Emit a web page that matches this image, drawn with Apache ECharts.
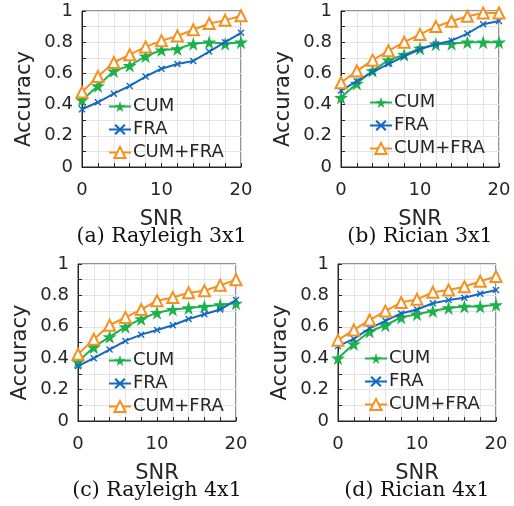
<!DOCTYPE html>
<html><head><meta charset="utf-8">
<script src="https://cdn.jsdelivr.net/npm/echarts@6/dist/echarts.min.js"></script>
<style>html,body{margin:0;padding:0;background:#fff}#c{width:514px;height:506px}</style>
</head><body><div id="c"></div>
<script>
const snr = [0,2,4,6,8,10,12,14,16,18,20];
const seriesNames = ['CUM','FRA','CUM+FRA'];
const captions = ['(a) Rayleigh 3x1','(b) Rician 3x1','(c) Rayleigh 4x1','(d) Rician 4x1'];
const xTickLabels = [0,10,20];
const yTickLabels = ['0','0.2','0.4','0.6','0.8','1'];

const a_CUM = [0.43,0.52,0.615,0.65,0.71,0.75,0.757,0.79,0.80,0.79,0.80];
const a_FRA = [0.37,0.415,0.47,0.52,0.58,0.63,0.66,0.68,0.74,0.80,0.86];
const a_CF  = [0.48,0.58,0.67,0.72,0.77,0.81,0.84,0.88,0.92,0.94,0.97];

const b_CUM = [0.445,0.536,0.617,0.685,0.72,0.76,0.787,0.79,0.80,0.80,0.80];
const b_FRA = [0.49,0.55,0.61,0.66,0.71,0.755,0.787,0.81,0.855,0.915,0.936];
const b_CF  = [0.54,0.615,0.685,0.745,0.80,0.85,0.90,0.934,0.966,0.987,0.987];

const c_CUM = [0.377,0.47,0.536,0.60,0.65,0.69,0.71,0.72,0.73,0.74,0.75];
const c_FRA = [0.35,0.40,0.455,0.51,0.55,0.58,0.61,0.65,0.68,0.71,0.77];
const c_CF  = [0.425,0.52,0.61,0.66,0.71,0.766,0.787,0.817,0.83,0.864,0.90];

const d_CUM = [0.40,0.49,0.57,0.61,0.66,0.68,0.70,0.72,0.73,0.73,0.74];
const d_FRA = [0.477,0.523,0.59,0.638,0.685,0.71,0.75,0.77,0.785,0.81,0.834];
const d_CF  = [0.515,0.58,0.643,0.70,0.755,0.775,0.82,0.834,0.855,0.89,0.92];

const panels = [[a_CUM,a_FRA,a_CF],[b_CUM,b_FRA,b_CF],[c_CUM,c_FRA,c_CF],[d_CUM,d_FRA,d_CF]];

// layout (styles)
const grids = [
  {left:82, top:11, width:159, height:156},
  {left:341, top:11, width:158, height:156},
  {left:78, top:264, width:158, height:157},
  {left:338, top:264, width:158, height:157}
];
const legendPos = [
  {left:108, top:97},
  {left:369, top:93},
  {left:108, top:351},
  {left:364, top:349}
];
const colors = ['#1DB14B','#1469BE','#F7901E'];
const STAR = 'path://M50,0 L61,35 L98,35 L68,57 L79,91 L50,70 L21,91 L32,57 L2,35 L39,35 Z';
const XMARK = 'path://M0,1.4 L1.4,0 L5,3.6 L8.6,0 L10,1.4 L6.4,5 L10,8.6 L8.6,10 L5,6.4 L1.4,10 L0,8.6 L3.6,5 Z';
const symbols = [STAR, XMARK, 'emptyTriangle'];
const symSizes = [14, 7, 11];
const axisColor = '#262626';
const sans = 'DejaVu Sans';

const option = {
  animation:false,
  backgroundColor:'#fff',
  grid: grids.map(g => Object.assign({show:true, borderColor:axisColor, borderWidth:1, containLabel:false}, g)),
  xAxis: grids.map((g,i) => ({
    type:'value', gridIndex:i, min:0, max:20, interval:2,
    name:'SNR', nameLocation:'middle', nameGap:42,
    nameTextStyle:{fontFamily:sans, fontSize:21, color:axisColor},
    axisLine:{lineStyle:{color:axisColor,width:1}},
    axisTick:{inside:true, length:4, lineStyle:{color:axisColor}},
    axisLabel:{fontFamily:sans, fontSize:18, color:axisColor, margin:14,
      formatter: v => xTickLabels.indexOf(v) >= 0 ? String(v) : ''},
    splitLine:{show:true, lineStyle:{color:'#e3e3e3', width:1}}
  })),
  yAxis: grids.map((g,i) => ({
    type:'value', gridIndex:i, min:0, max:1, interval:0.1,
    axisLine:{show:true, lineStyle:{color:axisColor,width:1}},
    axisTick:{show:true, inside:true, length:4, lineStyle:{color:axisColor}},
    axisLabel:{fontFamily:sans, fontSize:18, color:axisColor, margin:9,
      formatter: v => { const r = Math.round(v*10); return r % 2 ? '' : yTickLabels[r/2]; }},
    splitLine:{show:true, lineStyle:{color:'#e3e3e3', width:1}}
  })),
  legend: legendPos.map(p => ({
    orient:'vertical', left:p.left, top:p.top, data:seriesNames,
    itemWidth:22, itemHeight:14, itemGap:4, padding:0,
    textStyle:{fontFamily:sans, fontSize:18, color:axisColor, lineHeight:19, padding:[0,0,0,-3]},
    backgroundColor:'transparent', borderWidth:0
  })),
  series: [],
  graphic: []
};

panels.forEach((vals, i) => {
  vals.forEach((arr, k) => {
    option.series.push({
      type:'line', name:seriesNames[k], xAxisIndex:i, yAxisIndex:i,
      data: snr.map((x,j) => [x, arr[j]]),
      symbol:symbols[k], symbolSize:symSizes[k],
      lineStyle:{color:colors[k], width:2},
      itemStyle:{color:colors[k], borderColor:colors[k], borderWidth: k===2?1.5:0},
      z: 2+k
    });
  });
  const g = grids[i];
  option.graphic.push({
    type:'text', x: g.left - 57, y: g.top + g.height/2 + 10, rotation: Math.PI/2,
    style:{text:'Accuracy', fontFamily:sans, fontSize:21, fill:axisColor, textAlign:'center', textVerticalAlign:'middle'}
  });
  option.graphic.push({
    type:'text', x: g.left + g.width/2, y: g.top + g.height + 70,
    style:{text:captions[i], fontFamily:'DejaVu Serif', fontSize:20.5, fill:'#111', textAlign:'center', textVerticalAlign:'middle'}
  });
});

const chart = echarts.init(document.getElementById('c'), null, {renderer:'canvas'});
chart.setOption(option);
</script></body></html>
